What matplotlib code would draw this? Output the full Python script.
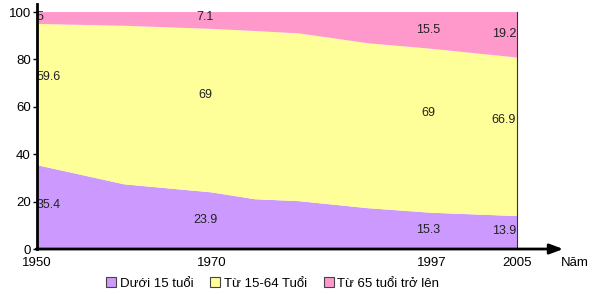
import matplotlib.pyplot as plt
from matplotlib.patches import Patch

plt.rcParams['font.family'] = ['Liberation Sans', 'DejaVu Sans']

# boundary samples (years along the x axis)
years = [1950, 1960, 1970, 1975, 1980, 1988, 1995.2, 2005]
under_15 = [35.4, 27.3, 23.9, 21.0, 20.2, 17.2, 15.3, 13.9]
age_15_64 = [59.6, 66.9, 69.0, 71.0, 70.8, 69.6, 69.2, 66.9]
over_65 = [5.0, 5.8, 7.1, 8.0, 9.0, 13.2, 15.5, 19.2]

# labelled columns
label_years = ['1950', '1970', '1997', '2005']
label_pos = [1950, 1970, 1995.2, 2005]
lbl_under_15 = ['35.4', '23.9', '15.3', '13.9']
lbl_15_64 = ['59.6', '69', '69', '66.9']
lbl_over_65 = ['5', '7.1', '15.5', '19.2']

names = ['Dưới 15 tuổi', 'Từ 15-64 Tuổi', 'Từ 65 tuổi trở lên']
colors = ['#cc99ff', '#ffff99', '#ff99cc']

fig = plt.figure(figsize=(5.93, 2.94), dpi=100)
ax = fig.add_axes([0.0624, 0.153, 0.8094, 0.806])

ax.stackplot(years, under_15, age_15_64, over_65, colors=colors, lw=0)
ax.set_xlim(1950, 2005)
ax.set_ylim(0, 100)

for s in ax.spines.values():
    s.set_visible(False)
# axes lines
ax.plot([1950, 1950], [0, 103.5], color='black', lw=2, clip_on=False, zorder=5)
ax.plot([2005, 2005], [0, 100], color='#333333', lw=0.8, clip_on=False, zorder=5)
ax.annotate('', xy=(2010.3, 0), xytext=(1949.9, 0),
            arrowprops=dict(arrowstyle='-|>,head_length=0.8,head_width=0.3',
                            lw=2, color='black', shrinkA=0, shrinkB=0),
            annotation_clip=False, zorder=6)
ax.text(2010.0, -6, 'Năm', fontsize=9.5, ha='left', va='center')

ax.set_yticks([0, 20, 40, 60, 80, 100])
ax.tick_params(axis='y', length=3, width=1, pad=1.5, labelsize=9.5)
ax.set_xticks(label_pos)
ax.set_xticklabels(label_years)
ax.tick_params(axis='x', length=0, pad=6, labelsize=9.5)

# data labels
ha = ['left', 'center', 'center', 'right']
y_under = [18.6, 12.2, 8.0, 7.6]
y_mid = [72.6, 65.0, 57.4, 54.4]
y_old = [97.9, 98.0, 92.4, 90.7]
xoff = [0.0, -0.7, -0.4, -0.1]
for i in range(4):
    x = label_pos[i] + xoff[i]
    ax.text(x, y_under[i], lbl_under_15[i], ha=ha[i], va='center', fontsize=9, color='#222222')
    ax.text(x, y_mid[i], lbl_15_64[i], ha=ha[i], va='center', fontsize=9, color='#222222')
    ax.text(x, y_old[i], lbl_over_65[i], ha=ha[i], va='center', fontsize=9, color='#222222')

handles = [Patch(facecolor=c, edgecolor='#444444', lw=0.8) for c in colors]
fig.legend(handles, names, loc='center', bbox_to_anchor=(0.46, 0.035), ncol=3,
           frameon=False, fontsize=9.5, handlelength=0.75, handleheight=0.75,
           handletextpad=0.25, columnspacing=1.3)

fig.savefig('out.png', dpi=100)
